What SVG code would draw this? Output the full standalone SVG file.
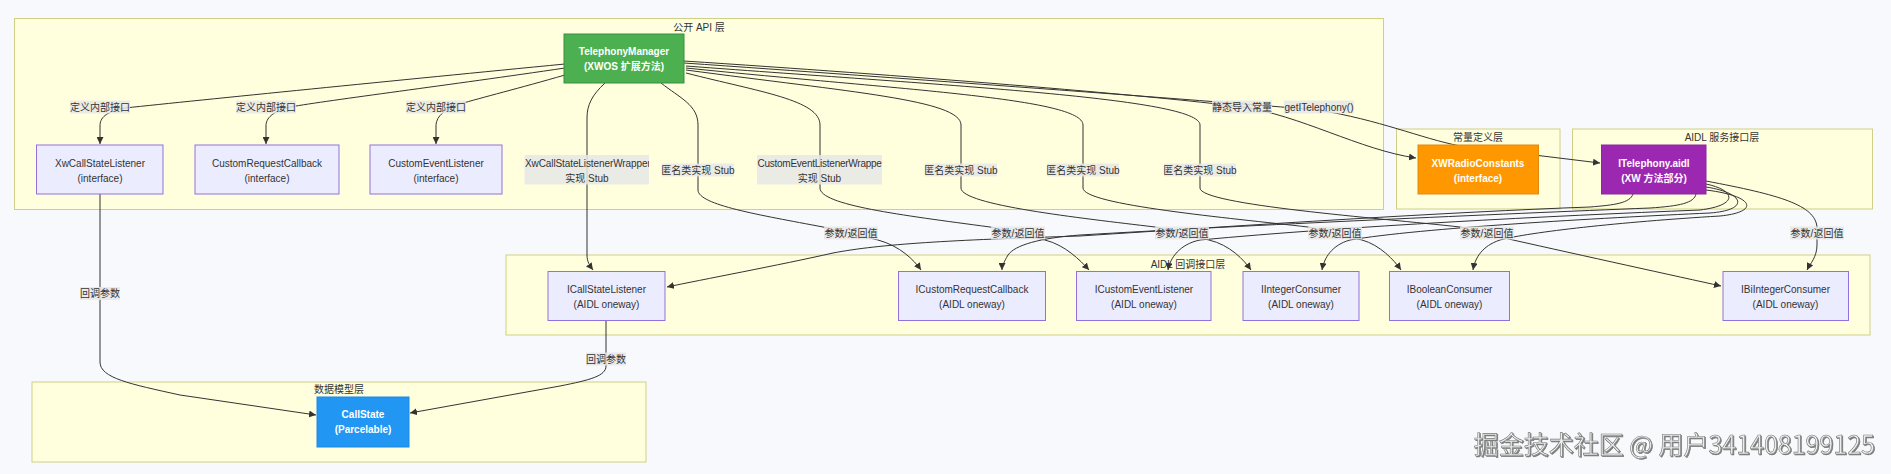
<svg xmlns="http://www.w3.org/2000/svg" width="1891" height="474" viewBox="0 0 1891 474">
<defs>
<style>
text{font-family:"Liberation Sans","Noto Sans CJK SC",sans-serif;font-size:10px;fill:#333;text-anchor:middle}
.cl{fill:#ffffde;stroke:#cfcf86;stroke-width:1}
.n rect{fill:#ececff;stroke:#9370db;stroke-width:1}
.w text{fill:#fff;font-weight:bold}
.e path{fill:none;stroke:#333;stroke-width:1}
.lb rect{fill:#e8e8e8;fill-opacity:0.85}
.wm{font-family:"Noto Sans CJK SC","Liberation Sans",sans-serif;font-size:25px;fill:#eeeeee;stroke:#777;stroke-width:0.6;text-anchor:end}
</style>
<marker id="ah" viewBox="0 0 10 10" refX="10" refY="5" markerUnits="userSpaceOnUse" markerWidth="7" markerHeight="7" orient="auto">
<path d="M0,0 L10,5 L0,10 z" fill="#333"/>
</marker>
<clipPath id="c1"><rect x="524.5" y="154" width="124.5" height="31"/></clipPath>
<clipPath id="c2"><rect x="757" y="154" width="125" height="31"/></clipPath>
<filter id="sh" x="-5%" y="-20%" width="110%" height="150%"><feDropShadow dx="1" dy="1" stdDeviation="0.6" flood-color="#444" flood-opacity="0.7"/></filter>
</defs>
<rect width="1891" height="474" fill="#f8f9fc"/>

<g id="clusters">
<g id="api-layer"><rect class="cl" x="14.5" y="18.5" width="1369" height="191"/><text x="699" y="30.5">公开 API 层</text></g>
<g id="const-layer"><rect class="cl" x="1396.5" y="129" width="163.5" height="80"/><text x="1478" y="140.5">常量定义层</text></g>
<g id="aidl-service-layer"><rect class="cl" x="1572.5" y="129" width="300" height="80"/><text x="1722" y="140.5">AIDL 服务接口层</text></g>
<g id="aidl-callback-layer"><rect class="cl" x="506" y="255" width="1364" height="80"/><text x="1188" y="267.5">AIDL 回调接口层</text></g>
<g id="data-layer"><rect class="cl" x="32" y="382" width="614" height="80"/><text x="339" y="392.5">数据模型层</text></g>
</g>

<g id="connectors" class="e">
<path marker-end="url(#ah)" d="M565,64 C400,80 200,100 125,108 C105,112 100,118 100,126 L100,144"/>
<path marker-end="url(#ah)" d="M565,68 C450,85 330,100 290,107 C272,112 266,118 266,126 L266,144"/>
<path marker-end="url(#ah)" d="M565,75 C520,88 480,98 460,104 C442,110 436,118 436,126 L436,144"/>
<path marker-end="url(#ah)" d="M605,83 C592,95 587,105 587,118 L587,255 C587,262 590,266 593,270"/>
<path marker-end="url(#ah)" d="M661,83 C680,98 698,105 698,125 L698,190 C698,205 760,215 823,227 L878,240 C900,246 914,260 921,270"/>
<path marker-end="url(#ah)" d="M686,73 C760,92 820,100 820,125 L820,188 C820,205 900,215 990,227 L1045,240 C1065,245 1080,260 1089,270"/>
<path marker-end="url(#ah)" d="M686,70 C850,92 961,100 961,125 L961,188 C961,205 1080,218 1155,227 L1209,240 C1230,245 1244,260 1251,270"/>
<path marker-end="url(#ah)" d="M686,68 C900,90 1083,98 1083,125 L1083,188 C1083,205 1230,218 1308,227 L1362,240 C1380,245 1394,260 1401,270"/>
<path marker-end="url(#ah)" d="M686,66 C950,86 1200,98 1200,125 L1200,188 C1200,205 1380,218 1460,227 L1513,240 C1580,255 1680,277 1721,286"/>
<path marker-end="url(#ah)" d="M684,61 C900,75 1150,95 1242,107 C1300,115 1360,150 1416,158"/>
<path marker-end="url(#ah)" d="M684,63 C900,78 1200,100 1318,110 C1380,120 1420,138 1460,146 L1600,163"/>
<path marker-end="url(#ah)" d="M1633,194 C1630,203 1615,205 1590,207 C1450,212 1250,225 1080,236 C950,240 880,244 833,253 C780,265 700,280 667,287"/>
<path marker-end="url(#ah)" d="M1696,194 C1694,203 1680,206 1650,208 C1500,214 1250,225 1080,235 C1040,238 1015,245 1008,255 C1004,262 1002,266 1002,270"/>
<path marker-end="url(#ah)" d="M1706,184 C1735,190 1740,205 1700,210 C1550,216 1350,226 1200,240 C1180,244 1170,258 1168,270"/>
<path marker-end="url(#ah)" d="M1706,187 C1745,193 1750,210 1710,213 C1600,218 1420,228 1350,240 C1332,245 1324,258 1322,270"/>
<path marker-end="url(#ah)" d="M1706,190 C1755,196 1760,212 1720,216 C1620,222 1530,232 1500,240 C1482,246 1475,258 1473,270"/>
<path marker-end="url(#ah)" d="M1706,181 C1780,195 1815,205 1817,227 L1817,245 C1817,257 1810,264 1807,270"/>
<path marker-end="url(#ah)" d="M100,194 L100,362 C100,378 130,384 180,395 L316,415"/>
<path marker-end="url(#ah)" d="M606,320 L606,366 C606,376 590,380 560,386 L410,413"/>
</g>

<g id="edge-labels" class="lb">
<rect x="70" y="100.5" width="60" height="13"/><text x="100" y="110.5">定义内部接口</text>
<rect x="236" y="100.5" width="60" height="13"/><text x="266" y="110.5">定义内部接口</text>
<rect x="406" y="100.5" width="60" height="13"/><text x="436" y="110.5">定义内部接口</text>
<rect x="524.5" y="155" width="124.5" height="29.5"/>
<text x="525" y="166.5" style="text-anchor:start;letter-spacing:-0.1px" clip-path="url(#c1)">XwCallStateListenerWrapper</text>
<text x="587" y="181.5">实现 Stub</text>
<rect x="757" y="155" width="125" height="29.5"/>
<text x="757.5" y="166.5" style="text-anchor:start;letter-spacing:-0.25px" clip-path="url(#c2)">CustomEventListenerWrapper</text>
<text x="819.5" y="181.5">实现 Stub</text>
<rect x="662" y="163.5" width="72" height="13"/><text x="698" y="173.5">匿名类实现 Stub</text>
<rect x="925" y="163.5" width="72" height="13"/><text x="961" y="173.5">匿名类实现 Stub</text>
<rect x="1047" y="163.5" width="72" height="13"/><text x="1083" y="173.5">匿名类实现 Stub</text>
<rect x="1164" y="163.5" width="72" height="13"/><text x="1200" y="173.5">匿名类实现 Stub</text>
<rect x="1212" y="100.5" width="60" height="13"/><text x="1242" y="110.5">静态导入常量</text>
<rect x="1284" y="100.5" width="70" height="13"/><text x="1319" y="110.5">getITelephony()</text>
<rect x="824" y="226.5" width="54" height="13"/><text x="851" y="236.5">参数/返回值</text>
<rect x="991" y="226.5" width="54" height="13"/><text x="1018" y="236.5">参数/返回值</text>
<rect x="1155" y="226.5" width="54" height="13"/><text x="1182" y="236.5">参数/返回值</text>
<rect x="1308" y="226.5" width="54" height="13"/><text x="1335" y="236.5">参数/返回值</text>
<rect x="1460" y="226.5" width="54" height="13"/><text x="1487" y="236.5">参数/返回值</text>
<rect x="1790" y="226.5" width="54" height="13"/><text x="1817" y="236.5">参数/返回值</text>
<rect x="80" y="287" width="40" height="13"/><text x="100" y="297">回调参数</text>
<rect x="586" y="352.5" width="40" height="13"/><text x="606" y="362.5">回调参数</text>
</g>

<g id="TelephonyManager" class="w"><rect x="564" y="34" width="120" height="49" fill="#4caf50" stroke="#3b8f3e"/><text x="624" y="55">TelephonyManager</text><text x="624" y="70">(XWOS 扩展方法)</text></g>
<g id="XwCallStateListener" class="n"><rect x="36.5" y="145" width="126.5" height="49"/><text x="100" y="166.5">XwCallStateListener</text><text x="100" y="181.5">(interface)</text></g>
<g id="CustomRequestCallback" class="n"><rect x="195" y="145" width="144" height="49"/><text x="267" y="166.5">CustomRequestCallback</text><text x="267" y="181.5">(interface)</text></g>
<g id="CustomEventListener" class="n"><rect x="370" y="145" width="132" height="49"/><text x="436" y="166.5">CustomEventListener</text><text x="436" y="181.5">(interface)</text></g>
<g id="XWRadioConstants" class="w"><rect x="1418" y="145" width="120.5" height="49" fill="#ff9800" stroke="#e08a10"/><text x="1478" y="166.5">XWRadioConstants</text><text x="1478" y="181.5">(interface)</text></g>
<g id="ITelephony" class="w"><rect x="1601.5" y="145" width="104.5" height="49" fill="#9c27b0" stroke="#8a2a9c"/><text x="1654" y="166.5">ITelephony.aidl</text><text x="1654" y="181.5">(XW 方法部分)</text></g>
<g id="ICallStateListener" class="n"><rect x="548" y="271.5" width="117" height="49"/><text x="606.5" y="292.5">ICallStateListener</text><text x="606.5" y="307.5">(AIDL oneway)</text></g>
<g id="ICustomRequestCallback" class="n"><rect x="898.5" y="271.5" width="147" height="49"/><text x="972" y="292.5">ICustomRequestCallback</text><text x="972" y="307.5">(AIDL oneway)</text></g>
<g id="ICustomEventListener" class="n"><rect x="1076.5" y="271.5" width="134.5" height="49"/><text x="1144" y="292.5">ICustomEventListener</text><text x="1144" y="307.5">(AIDL oneway)</text></g>
<g id="IIntegerConsumer" class="n"><rect x="1243" y="271.5" width="116" height="49"/><text x="1301" y="292.5">IIntegerConsumer</text><text x="1301" y="307.5">(AIDL oneway)</text></g>
<g id="IBooleanConsumer" class="n"><rect x="1389.5" y="271.5" width="120" height="49"/><text x="1449.5" y="292.5">IBooleanConsumer</text><text x="1449.5" y="307.5">(AIDL oneway)</text></g>
<g id="IBiIntegerConsumer" class="n"><rect x="1723" y="271.5" width="125.5" height="49"/><text x="1785.5" y="292.5">IBiIntegerConsumer</text><text x="1785.5" y="307.5">(AIDL oneway)</text></g>
<g id="CallState" class="w"><rect x="317" y="397" width="92" height="50" fill="#2196f3" stroke="#1e88e5"/><text x="363" y="418">CallState</text><text x="363" y="433">(Parcelable)</text></g>

<text class="wm" x="1875" y="454" filter="url(#sh)">掘金技术社区 @ 用户341408199125</text>
</svg>
